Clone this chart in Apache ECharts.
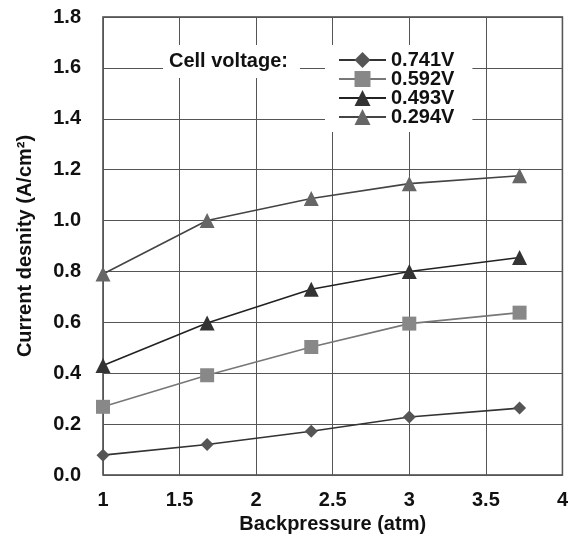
<!DOCTYPE html>
<html>
<head>
<meta charset="utf-8">
<script src="https://cdn.jsdelivr.net/npm/echarts@6/dist/echarts.min.js"></script>
<style>
  html, body { margin: 0; padding: 0; background: #fff; }
  #main { width: 571px; height: 541px; }
</style>
</head>
<body>
<div id="main"></div>
<script>
// backpressure (atm)
var pressure = [1, 1.68, 2.36, 3.0, 3.72];
// current density (A/cm2) per cell voltage
var names = ['0.741V', '0.592V', '0.493V', '0.294V'];
var v0741 = [0.078, 0.12, 0.172, 0.228, 0.263];
var v0592 = [0.268, 0.392, 0.503, 0.595, 0.638];
var v0493 = [0.43, 0.597, 0.73, 0.80, 0.855];
var v0294 = [0.79, 1.0, 1.087, 1.145, 1.176];

var symbols = ['diamond', 'rect', 'triangle', 'triangle'];
var sizes = [13, 14, 15, 15];
var markColors = ['#555', '#888', '#333', '#666'];
var lineColors = ['#333', '#777', '#222', '#444'];
var values = [v0741, v0592, v0493, v0294];

var font = 'Liberation Sans, Arial, Helvetica, sans-serif';
var myChart = echarts.init(document.getElementById('main'));

var series = names.map(function (n, i) {
    return {
        name: n,
        type: 'line',
        symbol: symbols[i],
        symbolSize: sizes[i],
        data: pressure.map(function (p, j) { return [p, values[i][j]]; }),
        itemStyle: { color: markColors[i] },
        lineStyle: { color: lineColors[i], width: 1.6 },
        emphasis: { disabled: true },
        z: 3
    };
});

var option = {
    backgroundColor: '#fff',
    animation: false,
    grid: {
        left: 103, right: 4, top: 17, bottom: 66,
        show: true, borderColor: '#444', borderWidth: 1.5
    },
    xAxis: {
        type: 'value', min: 1, max: 4, interval: 0.5,
        name: 'Backpressure (atm)', nameLocation: 'middle', nameGap: 39,
        nameTextStyle: { fontFamily: font, fontWeight: 'bold', fontSize: 20, color: '#111' },
        axisLine: { show: false },
        axisTick: { show: false },
        axisLabel: { margin: 15, fontFamily: font, fontWeight: 'bold', fontSize: 20, color: '#111' },
        splitLine: { lineStyle: { color: '#555', width: 1 } }
    },
    yAxis: {
        type: 'value', min: 0, max: 1.8, interval: 0.2,
        name: 'Current desnity (A/cm²)', nameLocation: 'middle', nameGap: 68,
        nameTextStyle: { fontFamily: font, fontWeight: 'bold', fontSize: 20, color: '#111' },
        axisLine: { show: false },
        axisTick: { show: false },
        axisLabel: {
            margin: 22, fontFamily: font, fontWeight: 'bold', fontSize: 20, color: '#111',
            formatter: function (v) { return v.toFixed(1); }
        },
        splitLine: { lineStyle: { color: '#555', width: 1 } }
    },
    legend: {
        orient: 'vertical', left: 325, top: 45,
        itemWidth: 47, itemHeight: 20, itemGap: -1,
        backgroundColor: '#fff', padding: [5, 18, 5, 13],
        textStyle: { fontFamily: font, fontWeight: 'bold', fontSize: 20, lineHeight: 19, color: '#111' },
        data: names
    },
    graphic: [{
        type: 'text', left: 163, top: 45, z: 10,
        style: {
            text: 'Cell voltage:', font: 'bold 20px ' + font, fill: '#111',
            backgroundColor: '#fff', padding: [6, 12, 7, 6]
        }
    }],
    series: series
};
myChart.setOption(option);
</script>
</body>
</html>
